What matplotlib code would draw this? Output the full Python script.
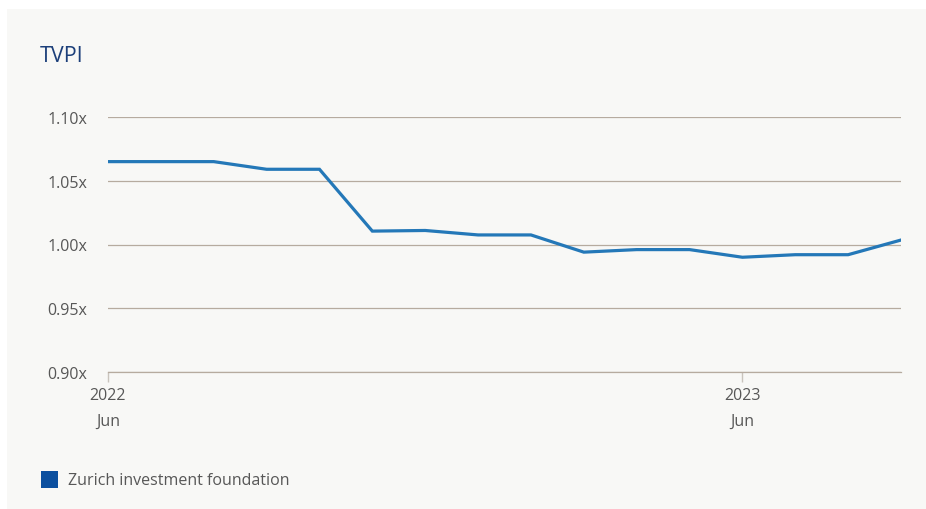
import numpy as np
import matplotlib.pyplot as plt
from matplotlib.patches import Rectangle

# TVPI, month-end values Jun 2022 .. Sep 2023
months = ['2022-06', '2022-07', '2022-08', '2022-09', '2022-10', '2022-11',
          '2022-12', '2023-01', '2023-02', '2023-03', '2023-04', '2023-05',
          '2023-06', '2023-07', '2023-08', '2023-09']
tvpi = [1.065, 1.065, 1.065, 1.059, 1.059, 1.0105, 1.011, 1.0075, 1.0075,
        0.994, 0.996, 0.996, 0.990, 0.992, 0.992, 1.0035]
y_ticks = [0.90, 0.95, 1.00, 1.05, 1.10]
x_tick_idx = [0, 12]
x_tick_labels = ['2022\nJun', '2023\nJun']

plt.rcParams['font.family'] = ['Open Sans', 'DejaVu Sans']

W, H = 926, 510
fig = plt.figure(figsize=(W / 100, H / 100), dpi=100)
fig.patch.set_facecolor('white')
# light panel behind everything
fig.patches.append(Rectangle((7 / W, 0), 1 - 7 / W, 1 - 10 / H,
                             transform=fig.transFigure, facecolor='#f8f8f6',
                             edgecolor='none', zorder=-5))

ax = fig.add_axes([108 / W, 137 / H, (901 - 108) / W, 255 / H])
ax.set_zorder(2)
ax.set_facecolor('none')

x = np.arange(len(months))
ax.plot(x, tvpi, color='#2478b8', lw=2.3, solid_joinstyle='miter', zorder=3)

ax.set_xlim(0, len(months) - 1)
ax.set_ylim(0.90, 1.10)
ax.set_yticks(y_ticks)
ax.set_yticklabels(['%.2fx' % v for v in y_ticks])
ax.set_xticks(x_tick_idx)
ax.set_xticklabels(x_tick_labels, linespacing=1.8)

ax.grid(axis='y', color='#b6ab9f', lw=0.9)
for s in ['top', 'right', 'left']:
    ax.spines[s].set_visible(False)
ax.spines['bottom'].set_color('#b6ab9f')
ax.spines['bottom'].set_linewidth(0.9)

ax.tick_params(axis='y', length=0, pad=15, labelsize=11.5, labelcolor='#575757')
ax.tick_params(axis='x', length=7, width=1, color='#c9c4bd', pad=4,
               labelsize=11.5, labelcolor='#575757')

fig.text(40 / W, 1 - 56 / H, 'TVPI', fontsize=15.5, color='#1c3f7a',
         va='center', ha='left')

# legend
fig.patches.append(Rectangle((41 / W, 1 - 489 / H), 17 / W, 17 / H,
                             transform=fig.transFigure, facecolor='#0b4f9f',
                             edgecolor='none'))
fig.text(68 / W, 1 - 481 / H, 'Zurich investment foundation', fontsize=11.5,
         color='#575757', va='center', ha='left')

fig.savefig('out.png', dpi=100)
